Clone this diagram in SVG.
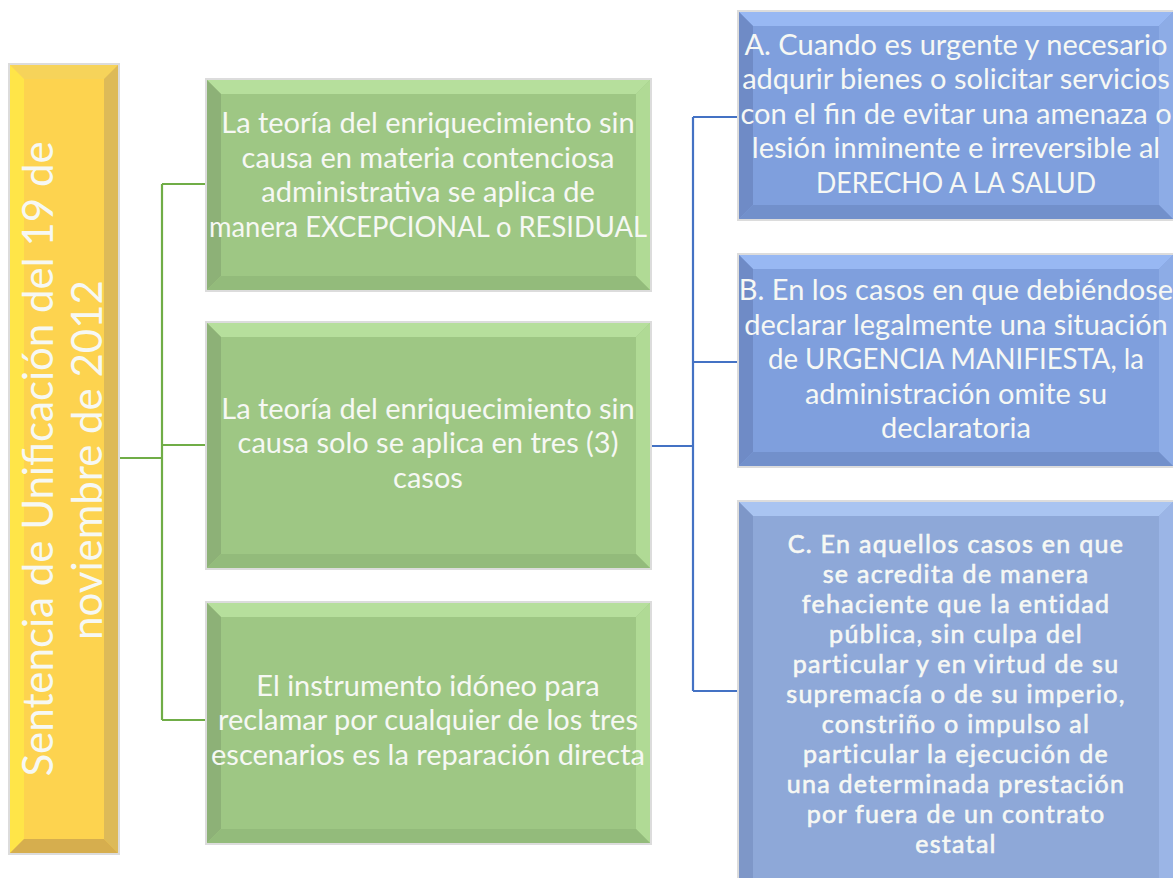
<svg xmlns="http://www.w3.org/2000/svg" width="1173" height="878" viewBox="0 0 1173 878">
<style>
.t{font-family:Lato,"Open Sans","Liberation Sans",sans-serif;fill:#F6F8F4;text-anchor:middle}
.g{font-size:29px}
.b{font-size:29px}
.c{font-size:25px;stroke:#F6F8F4;stroke-width:0.6;letter-spacing:1.3px}
.y{font-size:42px}
.frame{fill:none;stroke:#DCDCDC;stroke-width:2}
.gc{fill:none;stroke:#70AD47;stroke-width:2.2}
.bc{fill:none;stroke:#4472C4;stroke-width:2.2}
</style>
<rect width="1173" height="878" fill="#fff"/>
<g id="connectors">
<path class="gc" d="M118,458 H162 M162,184 V720 M162,184 H207 M162,445 H207 M162,720 H207"/>
<path class="bc" d="M650,446 H693 M693,117 V691 M693,117 H739 M693,362 H739 M693,691 H739"/>
</g>
<g id="n-sentencia">
<rect class="frame" x="9" y="64" width="110" height="790"/>
<rect x="10" y="65" width="108" height="788" fill="#FDD34F"/>
<polygon points="10,65 118,65 104,79 24,79" fill="#F6D35A"/>
<polygon points="10,65 24,79 24,839 10,853" fill="#FFE548"/>
<polygon points="118,65 118,853 104,839 104,79" fill="#DDBA58"/>
<polygon points="10,853 24,839 104,839 118,853" fill="#D6AE4E"/>
<text class="t y" transform="translate(53,459) rotate(-90)">Sentencia de Unificación del 19 de</text>
<text class="t y" transform="translate(102,460) rotate(-90)">noviembre de 2012</text>
</g>
<g id="n-g1">
<rect class="frame" x="206" y="79" width="445" height="212"/>
<rect x="207" y="80" width="443" height="210" fill="#9EC784"/>
<polygon points="207,80 650,80 636,94 221,94" fill="#B6DF9C"/>
<polygon points="207,80 221,94 221,276 207,290" fill="#8DB177"/>
<polygon points="650,80 650,290 636,276 636,94" fill="#B0DA95"/>
<polygon points="207,290 221,276 636,276 650,290" fill="#93BB7B"/>
<text class="t g" x="428" y="133">La teoría del enriquecimiento sin</text>
<text class="t g" x="428" y="168">causa en materia contenciosa</text>
<text class="t g" x="428" y="202">administrativa se aplica de</text>
<text class="t g" x="428" y="237" textLength="438" lengthAdjust="spacingAndGlyphs">manera EXCEPCIONAL o RESIDUAL</text>
</g>
<g id="n-g2">
<rect class="frame" x="206" y="322" width="445" height="247"/>
<rect x="207" y="323" width="443" height="245" fill="#9EC784"/>
<polygon points="207,323 650,323 636,337 221,337" fill="#B6DF9C"/>
<polygon points="207,323 221,337 221,554 207,568" fill="#8DB177"/>
<polygon points="650,323 650,568 636,554 636,337" fill="#B0DA95"/>
<polygon points="207,568 221,554 636,554 650,568" fill="#93BB7B"/>
<text class="t g" x="428" y="419">La teoría del enriquecimiento sin</text>
<text class="t g" x="428" y="453">causa solo se aplica en tres (3)</text>
<text class="t g" x="428" y="488">casos</text>
</g>
<g id="n-g3">
<rect class="frame" x="206" y="602" width="445" height="242"/>
<rect x="207" y="603" width="443" height="240" fill="#9EC784"/>
<polygon points="207,603 650,603 636,617 221,617" fill="#B6DF9C"/>
<polygon points="207,603 221,617 221,829 207,843" fill="#8DB177"/>
<polygon points="650,603 650,843 636,829 636,617" fill="#B0DA95"/>
<polygon points="207,843 221,829 636,829 650,843" fill="#93BB7B"/>
<text class="t g" x="428" y="696">El instrumento idóneo para</text>
<text class="t g" x="428" y="730">reclamar por cualquier de los tres</text>
<text class="t g" x="428" y="765">escenarios es la reparación directa</text>
</g>
<g id="n-a">
<rect class="frame" x="738" y="11" width="436" height="209"/>
<rect x="739" y="12" width="434" height="207" fill="#7F9FDD"/>
<polygon points="739,12 1173,12 1159,26 753,26" fill="#98B8F3"/>
<polygon points="739,12 753,26 753,205 739,219" fill="#6F8BC6"/>
<polygon points="1173,12 1173,219 1159,205 1159,26" fill="#8DACE6"/>
<polygon points="739,219 753,205 1159,205 1173,219" fill="#7290CB"/>
<text class="t b" x="956" y="55">A. Cuando es urgente y necesario</text>
<text class="t b" x="956" y="89">adqurir bienes o solicitar servicios</text>
<text class="t b" x="956" y="124">con el fin de evitar una amenaza o</text>
<text class="t b" x="956" y="158">lesión inminente e irreversible al</text>
<text class="t b" x="956" y="193" textLength="280" lengthAdjust="spacingAndGlyphs">DERECHO A LA SALUD</text>
</g>
<g id="n-b">
<rect class="frame" x="738" y="254" width="436" height="213"/>
<rect x="739" y="255" width="434" height="211" fill="#7F9FDD"/>
<polygon points="739,255 1173,255 1159,269 753,269" fill="#98B8F3"/>
<polygon points="739,255 753,269 753,452 739,466" fill="#6F8BC6"/>
<polygon points="1173,255 1173,466 1159,452 1159,269" fill="#8DACE6"/>
<polygon points="739,466 753,452 1159,452 1173,466" fill="#7290CB"/>
<text class="t b" x="956" y="300">B. En los casos en que debiéndose</text>
<text class="t b" x="956" y="335">declarar legalmente una situación</text>
<text class="t b" x="956" y="369" textLength="376" lengthAdjust="spacingAndGlyphs">de URGENCIA MANIFIESTA, la</text>
<text class="t b" x="956" y="404">administración omite su</text>
<text class="t b" x="956" y="438">declaratoria</text>
</g>
<g id="n-c">
<rect class="frame" x="738" y="501" width="436" height="390"/>
<rect x="739" y="502" width="434" height="390" fill="#8EA8D8"/>
<polygon points="739,502 1173,502 1159,516 753,516" fill="#A9C4F1"/>
<polygon points="739,502 753,516 753,892 739,892" fill="#7E97C8"/>
<polygon points="1173,502 1173,892 1159,892 1159,516" fill="#9BB5E6"/>
<text class="t c" x="956" y="553">C. En aquellos casos en que</text>
<text class="t c" x="956" y="583">se acredita de manera</text>
<text class="t c" x="956" y="613">fehaciente que la entidad</text>
<text class="t c" x="956" y="643">pública, sin culpa del</text>
<text class="t c" x="956" y="673">particular y en virtud de su</text>
<text class="t c" x="956" y="703">supremacía o de su imperio,</text>
<text class="t c" x="956" y="733">constriño o impulso al</text>
<text class="t c" x="956" y="763">particular la ejecución de</text>
<text class="t c" x="956" y="793">una determinada prestación</text>
<text class="t c" x="956" y="823">por fuera de un contrato</text>
<text class="t c" x="956" y="853">estatal</text>
</g>
</svg>
